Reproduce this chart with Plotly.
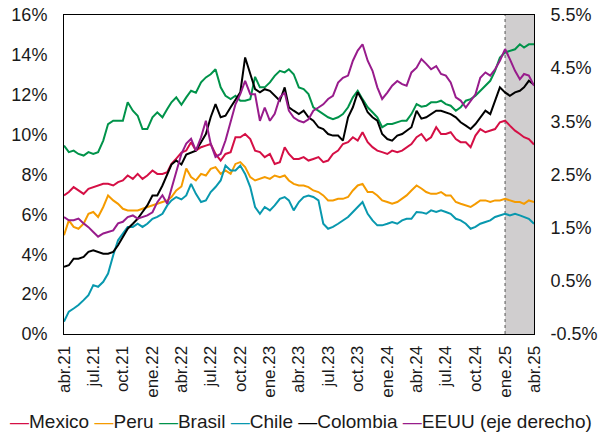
import plotly.graph_objects as go

# Semi-monthly observation dates (1st and 16th of each month), abr.21 -> abr.25
dates = []
for i in range(49):
    y = 2021 + (3 + i) // 12
    m = (3 + i) % 12 + 1
    dates.append(f"{y}-{m:02d}-01")
    if i < 48:
        dates.append(f"{y}-{m:02d}-16")

mexico = [6.95, 7.12, 7.37, 7.2, 7.03, 7.28, 7.37, 7.45, 7.53, 7.53,
          7.45, 7.62, 7.7, 7.95, 7.78, 8.03, 7.78, 7.95, 8.2, 8.03,
          8.03, 8.12, 8.53, 8.8, 9.1, 9.2, 9.62, 9.2, 9.37, 9.45,
          9.53, 9.03, 8.7, 9.03, 9.12, 9.87, 9.87, 10.03, 9.78, 9.2,
          9.12, 8.87, 9.03, 8.53, 8.62, 9.37, 9.03, 8.78, 8.78, 8.87,
          8.7, 8.78, 8.87, 8.62, 8.7, 9.03, 9.2, 9.53, 9.62, 9.87,
          9.7, 10.12, 9.62, 9.37, 9.2, 9.12, 9.03, 9.2, 9.12, 9.2,
          9.37, 9.53, 9.87, 10.03, 9.7, 9.87, 10.37, 10.03, 10.03, 10.12,
          9.78, 9.62, 9.62, 9.37, 9.95, 10.28, 10.12, 10.2, 10.28, 10.62,
          10.7, 10.45, 10.2, 10.03, 9.87, 9.78, 9.5]

peru = [4.95, 5.7, 5.37, 5.28, 5.53, 6.03, 6.12, 5.87, 6.37, 6.95,
        6.7, 6.53, 6.28, 6.2, 6.2, 6.2, 6.28, 6.37, 6.45, 6.53,
        6.62, 6.7, 6.87, 7.2, 7.4, 8.3, 7.87, 7.7, 8.03, 7.95,
        8.28, 8.37, 8.03, 8.2, 8.03, 8.53, 8.62, 8.37, 7.87, 7.7,
        7.78, 7.87, 7.78, 7.95, 7.87, 7.95, 7.7, 7.53, 7.45, 7.45,
        7.37, 7.2, 7.12, 6.95, 6.7, 6.7, 6.78, 6.78, 6.87, 7.2,
        7.45, 7.53, 7.12, 7.12, 6.95, 6.7, 6.62, 6.53, 6.62, 6.78,
        6.95, 7.2, 7.45, 7.3, 7.12, 7.03, 7.03, 7.12, 6.95, 6.95,
        6.62, 6.53, 6.45, 6.37, 6.53, 6.7, 6.7, 6.62, 6.7, 6.7,
        6.78, 6.7, 6.62, 6.62, 6.53, 6.7, 6.62]

brasil = [9.45, 9.12, 9.2, 9.03, 8.95, 9.12, 9.03, 9.12, 9.7, 10.53,
          10.7, 10.7, 10.7, 11.62, 11.2, 10.95, 10.28, 10.28, 10.87, 11.12,
          10.87, 11.28, 11.62, 11.87, 11.5, 11.87, 12.2, 12.1, 12.62, 12.87,
          13.03, 13.28, 12.37, 11.95, 11.78, 11.95, 11.7, 11.7, 11.78, 12.9,
          12.37, 12.37, 12.62, 12.95, 13.2, 13.12, 13.28, 13.03, 12.37, 12.28,
          12.03, 11.37, 11.2, 11.03, 10.87, 10.78, 10.87, 11.03, 11.37, 11.87,
          12.2, 11.78, 11.37, 11.12, 10.87, 10.37, 10.53, 10.53, 10.62, 10.7,
          10.7, 11.03, 11.53, 11.4, 11.45, 11.62, 11.62, 11.7, 11.53, 11.45,
          11.2, 11.37, 11.7, 11.78, 11.95, 12.2, 12.45, 12.7, 13.2, 13.87,
          14.12, 14.2, 14.28, 14.53, 14.37, 14.53, 14.53]

chile = [0.62, 1.12, 1.28, 1.45, 1.7, 1.95, 2.45, 2.37, 2.62, 3.03,
         3.95, 4.7, 5.03, 5.37, 5.37, 5.53, 5.37, 5.53, 5.78, 5.87,
         6.03, 6.45, 6.7, 6.87, 6.75, 6.95, 7.53, 7.03, 6.62, 6.7,
         7.12, 7.37, 7.7, 8.45, 8.2, 8.2, 8.45, 8.03, 7.37, 6.37,
         6.03, 6.37, 6.2, 6.45, 6.78, 6.87, 6.7, 6.2, 6.62, 6.87,
         6.95, 6.87, 6.7, 5.53, 5.28, 5.37, 5.53, 5.7, 5.87, 6.12,
         6.37, 6.62, 6.03, 5.7, 5.45, 5.45, 5.53, 5.62, 5.53, 5.7,
         5.78, 5.78, 6.12, 6.1, 6.03, 6.2, 6.12, 6.2, 6.12, 6.03,
         5.78, 5.7, 5.53, 5.28, 5.37, 5.53, 5.62, 5.7, 5.87, 5.95,
         6.03, 5.95, 6.03, 5.95, 5.87, 5.78, 5.53]

colombia = [3.37, 3.45, 3.78, 3.78, 3.87, 4.12, 4.2, 4.12, 4.03, 4.03,
            4.12, 4.45, 4.87, 5.28, 5.53, 5.78, 6.12, 6.45, 6.95, 6.95,
            7.45, 8.03, 8.5, 8.7, 8.5, 9.0, 9.12, 9.2, 9.62, 10.03,
            10.87, 11.53, 10.87, 10.95, 11.37, 11.78, 12.12, 13.87, 13.03, 12.28,
            12.12, 12.28, 12.2, 11.95, 11.7, 12.37, 11.37, 11.2, 11.03, 11.2,
            10.87, 10.7, 10.37, 10.28, 10.03, 9.95, 9.95, 9.7, 10.87, 11.37,
            12.12, 11.7, 11.12, 10.87, 10.7, 10.03, 9.78, 9.7, 9.95, 10.03,
            10.2, 10.37, 11.2, 10.8, 10.87, 11.03, 11.2, 11.2, 11.12, 11.03,
            10.87, 10.62, 10.45, 10.28, 10.53, 10.87, 11.2, 11.03, 11.7, 12.37,
            12.12, 11.95, 12.12, 12.2, 12.37, 12.7, 12.5]

eeuu = [1.70, 1.64, 1.64, 1.67, 1.58, 1.51, 1.42, 1.33, 1.39, 1.42,
        1.45, 1.58, 1.61, 1.70, 1.73, 1.67, 1.70, 1.73, 1.79, 1.98,
        2.11, 1.95, 2.23, 2.54, 2.89, 3.08, 3.17, 2.95, 3.2, 3.51,
        3.08, 2.83, 2.89, 3.14, 3.51, 3.82, 4.01, 4.26, 4.01, 4.01,
        3.51, 3.76, 3.51, 3.64, 3.95, 4.04, 3.70, 3.57, 3.51, 3.48,
        3.54, 3.70, 3.76, 3.82, 3.92, 3.98, 4.23, 4.32, 4.36, 4.64,
        4.83, 4.95, 4.64, 4.45, 4.14, 3.92, 4.04, 4.17, 4.26, 4.20,
        4.17, 4.42, 4.51, 4.67, 4.58, 4.48, 4.54, 4.39, 4.36, 4.23,
        3.95, 3.89, 3.76, 3.89, 4.01, 4.32, 4.42, 4.36, 4.48, 4.64,
        4.86, 4.67, 4.45, 4.29, 4.39, 4.36, 4.17]

tick_dates = ["2021-04-01", "2021-07-01", "2021-10-01", "2022-01-01",
              "2022-04-01", "2022-07-01", "2022-10-01", "2023-01-01",
              "2023-04-01", "2023-07-01", "2023-10-01", "2024-01-01",
              "2024-04-01", "2024-07-01", "2024-10-01", "2025-01-01",
              "2025-04-01"]
tick_labels = ["abr.21", "jul.21", "oct.21", "ene.22", "abr.22", "jul.22",
               "oct.22", "ene.23", "abr.23", "jul.23", "oct.23", "ene.24",
               "abr.24", "jul.24", "oct.24", "ene.25", "abr.25"]
left_ticks = [0, 2, 4, 6, 8, 10, 12, 14, 16]
right_ticks = [-0.5, 0.5, 1.5, 2.5, 3.5, 4.5, 5.5]

shade_start = "2025-01-01"
shade_end = "2025-04-01"

series = [("Mexico", mexico, "#D50F45", "y"),
          ("Peru", peru, "#F59B00", "y"),
          ("Brasil", brasil, "#00934A", "y"),
          ("Chile", chile, "#0898AE", "y"),
          ("Colombia", colombia, "#000000", "y"),
          ("EEUU (eje derecho)", eeuu, "#981C8C", "y2")]

fig = go.Figure()
for name, vals, color, ax in series:
    fig.add_trace(go.Scatter(x=dates, y=vals, name=name, mode="lines",
                             line=dict(color=color, width=2),
                             yaxis=ax, showlegend=False))

fig.add_shape(type="rect", xref="x", yref="paper", x0=shade_start, x1=shade_end,
              y0=0, y1=1, fillcolor="#D0CECF", line=dict(width=0), layer="below")
fig.add_shape(type="line", xref="x", yref="paper", x0=shade_start, x1=shade_start,
              y0=0, y1=1, line=dict(color="#555555", width=1, dash="dot"), layer="below")

legend_text = " ".join(
    f"<span style='color:{c}'>—</span>{n}" for n, _, c, _ in series)
fig.add_annotation(text=legend_text, xref="paper", yref="paper", x=0.505, y=-0.275,
                   xanchor="center", yanchor="middle", showarrow=False,
                   font=dict(size=19, color="#1A1A1A"))

font_family = "Liberation Sans, Arial, sans-serif"
fig.update_layout(
    width=601, height=435,
    margin=dict(l=64, r=67, t=15, b=101),
    paper_bgcolor="white", plot_bgcolor="white",
    font=dict(family=font_family, color="#1A1A1A", size=17),
    xaxis=dict(type="date", range=["2021-04-01", shade_end],
               tickvals=tick_dates, ticktext=tick_labels, tickangle=-90,
               tickfont=dict(size=17), showgrid=False, zeroline=False,
               showline=True, linecolor="#000000", linewidth=1, mirror=True,
               ticks="", ticklabelstandoff=4, automargin=False),
    yaxis=dict(range=[0, 16], tickvals=left_ticks,
               ticktext=[f"{v}%" for v in left_ticks],
               tickfont=dict(size=18), showgrid=False, zeroline=False,
               showline=True, linecolor="#000000", linewidth=1,
               ticks="", ticklabelstandoff=12, automargin=False),
    yaxis2=dict(range=[-0.5, 5.5], tickvals=right_ticks,
                ticktext=[f"{v:.1f}%" for v in right_ticks],
                tickfont=dict(size=18), overlaying="y", side="right",
                showgrid=False, zeroline=False,
                showline=True, linecolor="#000000", linewidth=1,
                ticks="", ticklabelstandoff=12, automargin=False),
)

fig.write_html("out.html", config={"displayModeBar": False},
               post_script="document.body.style.margin='0';document.body.style.overflow='hidden';")
